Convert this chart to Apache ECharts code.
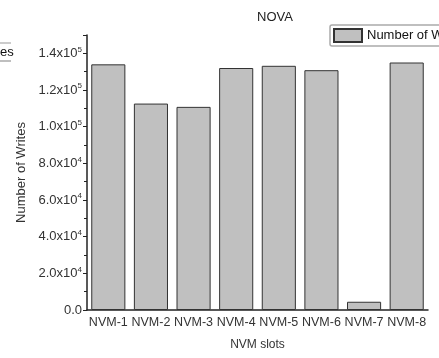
<!DOCTYPE html>
<html><head><meta charset="utf-8">
<script src="https://cdn.jsdelivr.net/npm/echarts@6/dist/echarts.min.js"></script>
<style>html,body{margin:0;padding:0;background:#fff}#c{width:439px;height:358px}</style>
</head><body><div id="c"></div>
<script>
const categories = ['NVM-1','NVM-2','NVM-3','NVM-4','NVM-5','NVM-6','NVM-7','NVM-8'];
const writes = [134000, 112600, 110800, 132000, 133200, 130800, 4500, 135000];
const yTicks = [0, 20000, 40000, 60000, 80000, 100000, 120000, 140000];
const yTickLabels = {0:'0.0',20000:'2.0x10|4',40000:'4.0x10|4',60000:'6.0x10|4',80000:'8.0x10|4',100000:'1.0x10|5',120000:'1.2x10|5',140000:'1.4x10|5'};

const FONT = 'Liberation Sans, Arial, sans-serif';
const chart = echarts.init(document.getElementById('c'));
chart.setOption({
  animation:false,
  title:{text:'NOVA', left:270, top:6, textAlign:'center', textStyle:{fontFamily:FONT,fontSize:13,fontWeight:'normal',color:'#222'}},
  legend:{left:330, top:25, itemWidth:28, itemHeight:13, itemGap:4, padding:[3,4,3,3], icon:'rect',
    borderColor:'#aaa', borderWidth:1.5, borderRadius:2,
    textStyle:{fontFamily:FONT,fontSize:13,color:'#111'}, data:['Number of Writes']},
  grid:{left:87, right:11, top:35, bottom:48, containLabel:false},
  xAxis:[{type:'category', data:categories,
    name:'NVM slots', nameLocation:'middle', nameGap:29,
    nameTextStyle:{fontFamily:FONT,fontSize:12,color:'#333'},
    axisLine:{lineStyle:{color:'#222',width:1.5}},
    axisTick:{alignWithLabel:true,length:4,lineStyle:{color:'#222'}},
    axisLabel:{fontFamily:FONT,fontSize:12.5,color:'#333',margin:6,interval:0}},
   {type:'category', data:categories, position:'bottom',
    axisLine:{show:false}, axisLabel:{show:false},
    axisTick:{length:3,lineStyle:{color:'#222'}}}],
  yAxis:{type:'value', min:0, max:150000, interval:20000,
    name:'Number of Writes', nameLocation:'middle', nameGap:58,
    nameTextStyle:{fontFamily:FONT,fontSize:13,color:'#333'},
    axisLine:{show:true,lineStyle:{color:'#222',width:1.5}},
    axisTick:{show:true,length:4,lineStyle:{color:'#222'}},
    minorTick:{show:true,splitNumber:2,length:3,lineStyle:{color:'#222'}},
    splitLine:{show:false},
    axisLabel:{fontFamily:FONT,fontSize:13,color:'#333',margin:5,
      formatter:function(v){ if(v>140000) return ''; const s=yTickLabels[v]; if(!s) return ''; const p=s.split('|'); return p.length>1?p[0]+'{sup|'+p[1]+'}':p[0]; },
      rich:{sup:{fontFamily:FONT,fontSize:8,color:'#333',padding:[0,0,8,0]}}}},
  graphic:[
    {type:'line',shape:{x1:0,y1:43,x2:11,y2:43},style:{stroke:'#bbb',lineWidth:1.5}},
    {type:'line',shape:{x1:0,y1:61,x2:11,y2:61},style:{stroke:'#aaa',lineWidth:1.5}},
    {type:'text',x:0,y:46,style:{text:'es',fontFamily:FONT,fontSize:13,fill:'#111'}}
  ],
  series:[{type:'bar', name:'Number of Writes', data:writes, barWidth:'80%',
    itemStyle:{color:'#c0c0c0',borderColor:'#333',borderWidth:1}}]
});
</script></body></html>
